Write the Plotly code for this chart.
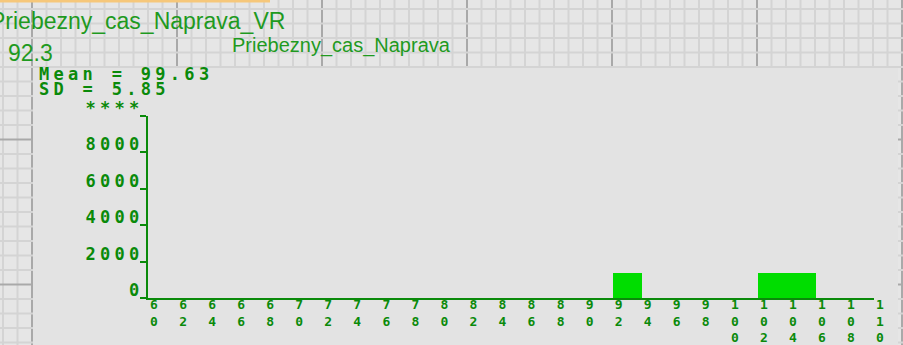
import plotly.graph_objects as go

W, H = 903, 345

# ---- data ----
bin_left = [92, 102, 104]
bin_width = 2
counts = [1400, 1400, 1400]
x_ticks = list(range(60, 112, 2))
x_ticktext = ["<br>".join(str(v)) for v in x_ticks]
y_ticks = [0, 2000, 4000, 6000, 8000, 10000]
y_ticktext = ["0", "2000", "4000", "6000", "8000", "****"]
title_var = "Priebezny_cas_Naprava_VR"
sub_var = "Priebezny_cas_Naprava"
cell_value = "92.3"
mean_text = "Mean = 99.63"
sd_text = "SD = 5.85"

GREEN = "#0a8a0a"
HDR_GREEN = "#1f9a1f"
BAR = "#00dd00"
MONO = "DejaVu Sans Mono"


def px(x):
    return x / W


def py(y):
    return 1 - y / H


fig = go.Figure()
fig.add_bar(
    x=[l + bin_width / 2 for l in bin_left],
    y=counts,
    width=bin_width,
    marker=dict(color=BAR, line=dict(width=0)),
    hoverinfo="skip",
)

# ---- spreadsheet-like background grid (decoration) ----
shapes = []
minor = "#d4d4d4"
major = "#a9a9a9"
step = 14.5
k = -2
while 32 + k * step <= W + 1:
    x = 32 + k * step
    col = major if k % 10 == 0 else minor
    shapes.append(dict(type="line", xref="paper", yref="paper", x0=px(x), x1=px(x),
                       y0=0, y1=1, line=dict(color=col, width=2), layer="below"))
    k += 1
k = -4
while 67 + k * step <= H + 1:
    y = 67 + k * step
    col = major if (k % 10 == 5) else minor
    shapes.append(dict(type="line", xref="paper", yref="paper", x0=0, x1=1,
                       y0=py(y), y1=py(y), line=dict(color=col, width=2), layer="below"))
    k += 1
shapes.append(dict(type="rect", xref="paper", yref="paper", x0=px(33), x1=px(898),
                   y0=0, y1=py(68), fillcolor="#e3e3e3", line=dict(width=0), layer="below"))
shapes.append(dict(type="rect", xref="paper", yref="paper", x0=0, x1=px(270),
                   y0=py(2.5), y1=1, fillcolor="#f6c77a", line=dict(width=0), layer="below"))

annotations = [
    dict(text=title_var, x=px(-11), y=py(21), xanchor="left", yanchor="middle",
         font=dict(family="Liberation Sans", size=23, color=HDR_GREEN)),
    dict(text=cell_value, x=px(7), y=py(53), xanchor="left", yanchor="middle",
         font=dict(family="Liberation Sans", size=23, color=HDR_GREEN)),
    dict(text=sub_var, x=px(231), y=py(45), xanchor="left", yanchor="middle",
         font=dict(family="Liberation Sans", size=20, color=HDR_GREEN)),
    dict(text=mean_text, x=px(38), y=py(74.5), xanchor="left", yanchor="middle",
         font=dict(family=MONO, size=17, color=GREEN, weight="bold")),
    dict(text=sd_text, x=px(38), y=py(89), xanchor="left", yanchor="middle",
         font=dict(family=MONO, size=17, color=GREEN, weight="bold")),
]
for a in annotations:
    a.update(xref="paper", yref="paper", showarrow=False, borderpad=0, align="left")

fig.update_layout(
    width=W, height=H,
    margin=dict(l=0, r=0, t=0, b=0, pad=0),
    paper_bgcolor="#e6e6e6",
    plot_bgcolor="rgba(0,0,0,0)",
    showlegend=False,
    shapes=shapes,
    annotations=annotations,
    bargap=0,
    xaxis=dict(
        domain=[px(148), px(874)], range=[60, 110], automargin=False,
        showline=True, linecolor=GREEN, linewidth=2,
        showgrid=False, zeroline=False,
        tickmode="array", tickvals=x_ticks, ticktext=x_ticktext,
        ticks="", ticklabelshift=6, ticklabelstandoff=-7,
        tickfont=dict(family=MONO, size=13, color=GREEN, weight="bold"),
        fixedrange=True,
    ),
    yaxis=dict(
        domain=[py(298), py(116)], range=[0, 10000], automargin=False,
        showline=True, linecolor=GREEN, linewidth=2,
        showgrid=False, zeroline=False,
        tickmode="array", tickvals=y_ticks, ticktext=y_ticktext,
        ticks="outside", ticklen=6, tickwidth=2, tickcolor=GREEN,
        ticklabelshift=-8, ticklabelstandoff=-7,
        tickfont=dict(family=MONO, size=17, color=GREEN, weight="bold"),
        fixedrange=True,
    ),
)

post = """
var gd = document.getElementById('{plot_id}');
function fixSpacing(){
  gd.querySelectorAll('text').forEach(function(t){
    var ff = t.style.fontFamily || '';
    if (ff.indexOf('Mono') >= 0 && !t.closest('.xtick')) { t.style.letterSpacing = '4.3px'; }
  });
}
fixSpacing();
gd.on('plotly_afterplot', fixSpacing);
"""

fig.write_html("out.html", post_script=post, config={"displayModeBar": False})
